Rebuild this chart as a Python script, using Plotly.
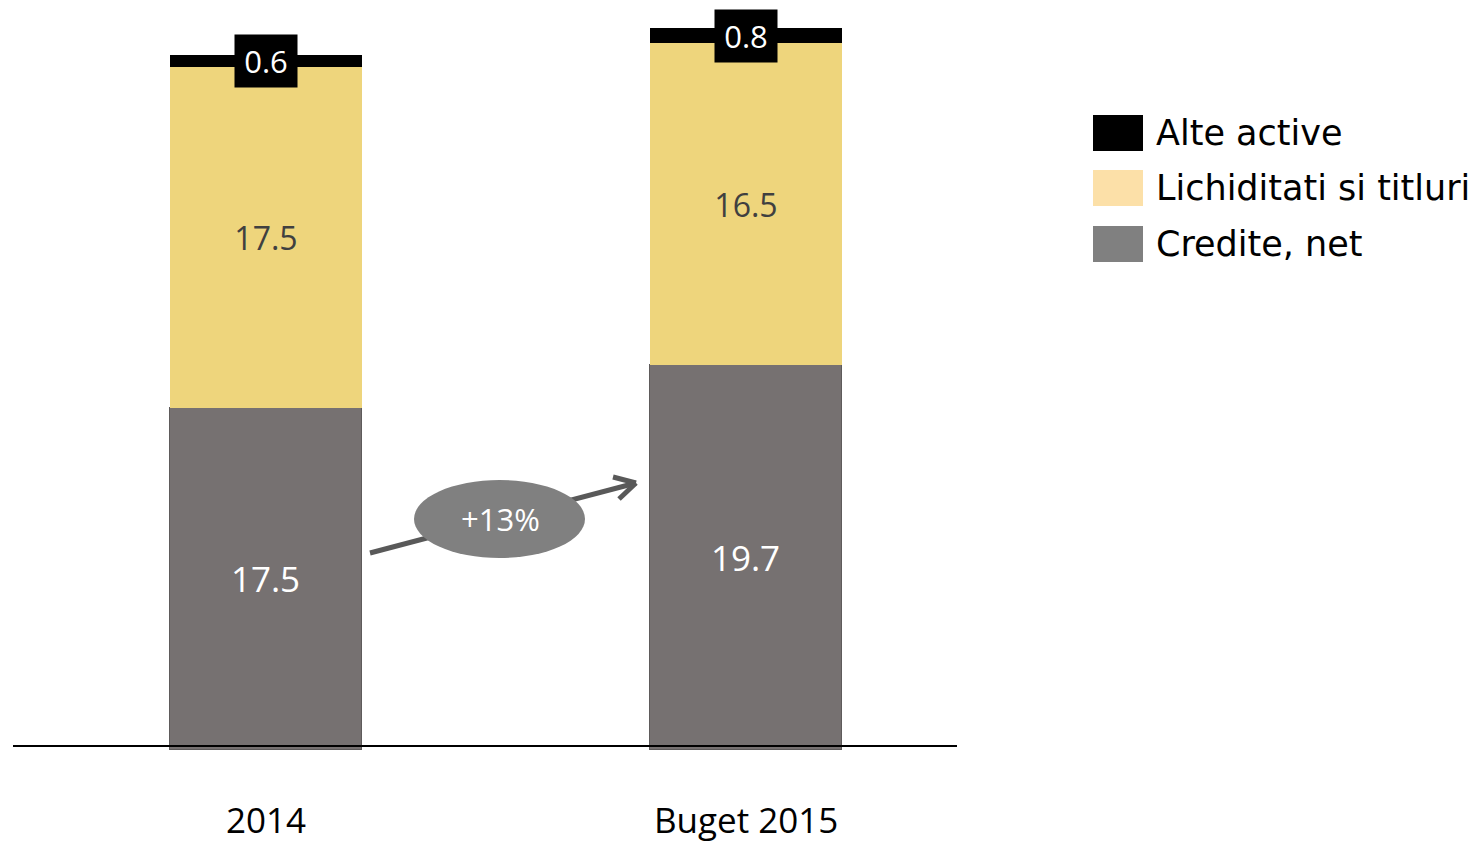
import plotly.graph_objects as go

categories = ["2014", "Buget 2015"]
credite = [17.5, 19.7]
lichiditati = [17.5, 16.5]
alte = [0.6, 0.8]
growth_label = "+13%"
series_names = ["Alte active", "Lichiditati si titluri", "Credite, net"]

# page body has an 8px default margin; build the figure 8px smaller and shift
OFF = 8
W, H = 1478 - OFF, 843 - OFF
FONT = "Open Sans"
LEG_FONT = "DejaVu Sans"

# reference-pixel -> data calibration
px_per_unit_y = 19.52
zero_py = 750
x_px_per_unit = 480
x0_px = 266

def dx(px):
    return (px - x0_px) / x_px_per_unit

def dy(py):
    return (zero_py - py) / px_per_unit_y

def paper_x(px):
    return (px - OFF) / W

def paper_y(py):
    return 1 - (py - OFF) / H

xpos = list(range(len(categories)))

fig = go.Figure()
fig.add_trace(go.Bar(
    x=xpos, y=credite, width=0.4, name=series_names[2],
    marker=dict(color="#767171", line=dict(color="#5e5b5b", width=1)),
    text=[f"{v:.1f}" for v in credite], textposition="inside",
    insidetextanchor="middle", textangle=0,
    textfont=dict(family=FONT, size=35, color="white"),
    hoverinfo="skip", showlegend=False))
fig.add_trace(go.Bar(
    x=xpos, y=lichiditati, width=0.4, name=series_names[1],
    marker=dict(color="#EED57C", line=dict(width=0)),
    text=[f"{v:.1f}" for v in lichiditati], textposition="inside",
    insidetextanchor="middle", textangle=0,
    textfont=dict(family=FONT, size=32, color="#404040"),
    hoverinfo="skip", showlegend=False))
fig.add_trace(go.Bar(
    x=xpos, y=alte, width=0.4, name=series_names[0],
    marker=dict(color="black", line=dict(width=0)),
    textposition="none", hoverinfo="skip", showlegend=False))

annotations = []
for i, c in enumerate(categories):
    top_mid = credite[i] + lichiditati[i] + alte[i] / 2
    annotations.append(dict(
        x=i, y=top_mid, xref="x", yref="y", text=f"{alte[i]:.1f}",
        showarrow=False, bgcolor="black", borderpad=6, width=50, height=40,
        font=dict(family=FONT, size=31, color="white")))
    annotations.append(dict(
        x=i, y=dy(819), xref="x", yref="y", text=c, showarrow=False,
        font=dict(family=FONT, size=35, color="black")))

shapes = []
# baseline axis line
shapes.append(dict(type="line", xref="x", yref="y", x0=dx(13), x1=dx(957),
                   y0=dy(746), y1=dy(746), line=dict(color="black", width=2),
                   layer="above"))
# growth arrow
ax0, ay0, ax1, ay1 = dx(370), dy(553), dx(636), dy(483)
arrow_col = "#595959"
shapes.append(dict(type="line", xref="x", yref="y", x0=ax0, y0=ay0, x1=ax1, y1=ay1,
                   line=dict(color=arrow_col, width=5), layer="above"))
shapes.append(dict(type="line", xref="x", yref="y", x0=dx(613), y0=dy(477), x1=ax1, y1=ay1,
                   line=dict(color=arrow_col, width=5), layer="above"))
shapes.append(dict(type="line", xref="x", yref="y", x0=dx(619), y0=dy(499), x1=ax1, y1=ay1,
                   line=dict(color=arrow_col, width=5), layer="above"))
# ellipse
shapes.append(dict(type="circle", xref="x", yref="y", x0=dx(414), x1=dx(585),
                   y0=dy(558), y1=dy(480), fillcolor="#808080",
                   line=dict(width=0), layer="above"))
annotations.append(dict(x=dx(500), y=dy(519), xref="x", yref="y", text=growth_label,
                        showarrow=False, font=dict(family=FONT, size=31, color="white")))

# manual legend
legend_colors = ["#000000", "#FCE0A8", "#808080"]
legend_rows_py = [133, 188, 244]
for name, col, py in zip(series_names, legend_colors, legend_rows_py):
    shapes.append(dict(type="rect", xref="paper", yref="paper",
                       x0=paper_x(1093), x1=paper_x(1143),
                       y0=paper_y(py + 18), y1=paper_y(py - 18),
                       fillcolor=col, line=dict(width=0)))
    annotations.append(dict(x=paper_x(1154), y=paper_y(py), xref="paper", yref="paper",
                            xanchor="left", yanchor="middle", text=name, showarrow=False,
                            font=dict(family=LEG_FONT, size=35, color="black")))

fig.update_layout(
    width=W, height=H, barmode="stack", bargap=0,
    margin=dict(l=0, r=0, t=0, b=0),
    paper_bgcolor="white", plot_bgcolor="white",
    xaxis=dict(domain=[paper_x(13), paper_x(957)], range=[dx(13), dx(957)], visible=False),
    yaxis=dict(domain=[0, 1], range=[dy(843), dy(OFF)], visible=False),
    shapes=shapes, annotations=annotations, showlegend=False,
)

fig.write_html("out.html")
